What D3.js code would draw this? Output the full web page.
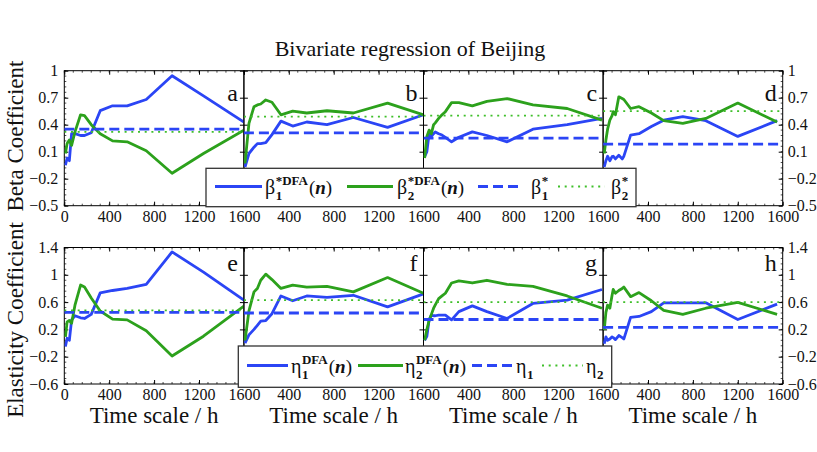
<!DOCTYPE html>
<html>
<head>
<meta charset="utf-8">
<script src="https://cdn.jsdelivr.net/npm/d3@7/dist/d3.min.js"></script>
<style>
html,body{margin:0;padding:0;background:#fff;}
svg text{font-family:"Liberation Serif","Times New Roman",serif;fill:#111;}
</style>
</head>
<body>
<svg id="chart" width="817" height="452"></svg>
<script>
// ---------------- DATA ----------------
const titleText = "Bivariate regression of Beijing";
const panelLetters = ["a","b","c","d","e","f","g","h"];
const xTicks = [0, 400, 800, 1200, 1600];
const yTicksBeta = [-0.5, -0.2, 0.1, 0.4, 0.7, 1];
const yTicksEta = [-0.6, -0.2, 0.2, 0.6, 1, 1.4];

// time scales (h) per column
const timeCol1 = [10, 25, 45, 65, 95, 145, 180, 240, 320, 430, 560, 730, 960, 1240, 1600];
const timeCol2 = [10, 45, 90, 120, 150, 195, 250, 330, 435, 560, 740, 975, 1280, 1600];
const timeCol3 = [10, 30, 50, 70, 90, 105, 135, 165, 195, 250, 315, 435, 565, 745, 975, 1280, 1590];
const timeCol4 = [10, 25, 40, 60, 80, 90, 110, 140, 170, 185, 245, 320, 430, 540, 710, 915, 1200, 1550];

// beta*DFA(n)
const beta1A = [-0.05, 0.03, 0.0, 0.30, 0.30, 0.28, 0.28, 0.31, 0.556, 0.61, 0.61, 0.68, 0.944, 0.72, 0.43];
const beta2A = [0.08, 0.19, 0.23, 0.17, 0.32, 0.51, 0.50, 0.40, 0.30, 0.22, 0.21, 0.11, -0.14, 0.08, 0.34];
const beta1B = [-0.07, 0.08, 0.15, 0.19, 0.19, 0.20, 0.29, 0.44, 0.385, 0.43, 0.40, 0.48, 0.37, 0.51];
const beta2B = [-0.03, 0.415, 0.60, 0.62, 0.63, 0.675, 0.65, 0.51, 0.55, 0.53, 0.555, 0.53, 0.64, 0.51];
const beta1C = [0.045, 0.10, 0.30, 0.27, 0.30, 0.32, 0.30, 0.285, 0.26, 0.21, 0.26, 0.32, 0.28, 0.21, 0.35, 0.40, 0.47];
const beta2C = [0.03, 0.27, 0.34, 0.30, 0.40, 0.42, 0.47, 0.51, 0.545, 0.645, 0.645, 0.61, 0.66, 0.69, 0.62, 0.58, 0.45];
const beta1D = [-0.07, 0.0, 0.05, 0.0, 0.045, 0.05, 0.02, 0.06, 0.02, 0.05, 0.285, 0.30, 0.38, 0.45, 0.49, 0.445, 0.27, 0.445];
const beta2D = [0.08, 0.23, 0.35, 0.45, 0.50, 0.545, 0.51, 0.71, 0.69, 0.68, 0.58, 0.60, 0.53, 0.445, 0.415, 0.47, 0.64, 0.43];

// etaDFA(n)
const eta1E = [-0.05, 0.07, 0.04, 0.34, 0.40, 0.37, 0.36, 0.42, 0.735, 0.77, 0.80, 0.86, 1.335, 1.04, 0.63];
const eta2E = [0.09, 0.31, 0.33, 0.29, 0.555, 0.85, 0.82, 0.66, 0.47, 0.35, 0.34, 0.18, -0.19, 0.10, 0.54];
const eta1F = [0.0, 0.12, 0.20, 0.26, 0.32, 0.33, 0.43, 0.69, 0.62, 0.69, 0.67, 0.70, 0.53, 0.72];
const eta2F = [0.04, 0.47, 0.75, 0.80, 0.92, 1.01, 0.93, 0.80, 0.85, 0.82, 0.83, 0.75, 0.96, 0.73];
const eta1G = [0.04, 0.10, 0.34, 0.41, 0.40, 0.40, 0.41, 0.41, 0.41, 0.34, 0.46, 0.545, 0.46, 0.36, 0.58, 0.63, 0.785];
const eta2G = [0.04, 0.20, 0.33, 0.42, 0.51, 0.56, 0.65, 0.69, 0.73, 0.88, 0.91, 0.88, 0.92, 0.86, 0.83, 0.69, 0.51];
const eta1H = [-0.01, 0.09, 0.04, 0.06, 0.09, 0.08, 0.05, 0.11, 0.08, 0.06, 0.375, 0.39, 0.46, 0.59, 0.59, 0.59, 0.345, 0.57];
const eta2H = [0.19, 0.45, 0.555, 0.51, 0.70, 0.785, 0.73, 0.77, 0.80, 0.82, 0.68, 0.74, 0.62, 0.48, 0.42, 0.51, 0.595, 0.42];

// constant coefficients (horizontal reference lines)
const beta1Star = [0.35, 0.31, 0.25, 0.185];
const beta2Star = [0.32, 0.49, 0.50, 0.55];
const eta1Const = [0.45, 0.44, 0.345, 0.23];
const eta2Const = [0.48, 0.63, 0.60, 0.60];

// ---------------- LAYOUT ----------------
const BLUE = "#2b45f5", GREEN = "#2ca11c";
const svg = d3.select("#chart");
const left = 64.3, panelW = 179.6;
const rows = [
  {top: 70.7, bottom: 205.7, domain: [-0.5, 1], ticks: yTicksBeta, minor: 0.06, label: "Beta Coefficient", labelY: 136},
  {top: 247.5, bottom: 384, domain: [-0.6, 1.4], ticks: yTicksEta, minor: 0.08, label: "Elasticity Coefficient", labelY: 320}
];
const times = [timeCol1, timeCol2, timeCol3, timeCol4];
const series = [
  [beta1A, beta2A], [beta1B, beta2B], [beta1C, beta2C], [beta1D, beta2D],
  [eta1E, eta2E], [eta1F, eta2F], [eta1G, eta2G], [eta1H, eta2H]
];
const refs = [
  [beta1Star, beta2Star], [eta1Const, eta2Const]
];
const fmt = v => (v < 0 ? "\u2212" : "") + String(Math.abs(Math.round(v * 10) / 10));

// title
svg.append("text").attr("x", 410).attr("y", 56).attr("text-anchor", "middle")
  .style("font-size", "22px").text(titleText);

const defs = svg.append("defs");

rows.forEach((row, ri) => {
  const y = d3.scaleLinear().domain(row.domain).range([row.bottom, row.top]);
  // y-axis title
  svg.append("text").attr("transform", `translate(23,${row.labelY}) rotate(-90)`)
    .attr("text-anchor", "middle").style("font-size", "23px").text(row.label);

  for (let ci = 0; ci < 4; ci++) {
    const pi = ri * 4 + ci;
    const x0 = left + ci * panelW;
    const x = d3.scaleLinear().domain([0, 1600]).range([x0, x0 + panelW]);
    const g = svg.append("g");
    const clipId = "clip" + pi;
    defs.append("clipPath").attr("id", clipId).append("rect")
      .attr("x", x0).attr("y", row.top).attr("width", panelW).attr("height", row.bottom - row.top);

    // minor ticks
    const minorX = d3.range(0, 1600.1, 80);
    minorX.forEach(t => {
      g.append("line").attr("x1", x(t)).attr("x2", x(t)).attr("y1", row.top).attr("y2", row.top + 2)
        .attr("stroke", "#000").attr("stroke-width", 0.7);
      g.append("line").attr("x1", x(t)).attr("x2", x(t)).attr("y1", row.bottom).attr("y2", row.bottom - 2)
        .attr("stroke", "#000").attr("stroke-width", 0.7);
    });
    if (ci === 0 || ci === 3) {
      const xe = ci === 0 ? x0 : x0 + panelW;
      const dir = ci === 0 ? 1 : -1;
      const minorY = d3.range(row.domain[0], row.domain[1] + 1e-6, row.minor);
      minorY.forEach(v => {
        g.append("line").attr("x1", xe).attr("x2", xe + dir * 2).attr("y1", y(v)).attr("y2", y(v))
          .attr("stroke", "#000").attr("stroke-width", 0.7);
      });
    }

    // x axis (inward ticks)
    const xt = ci === 0 ? xTicks : xTicks.slice(1);
    const axB = g.append("g").attr("transform", `translate(0,${row.bottom})`)
      .call(d3.axisBottom(x).tickValues(xt).tickSize(-4).tickPadding(5).tickFormat(d3.format("d")));
    const axT = g.append("g").attr("transform", `translate(0,${row.top})`)
      .call(d3.axisTop(x).tickValues(xTicks).tickSize(-4).tickFormat(""));
    // y axes inward ticks both sides
    const axL = g.append("g").attr("transform", `translate(${x0},0)`)
      .call(d3.axisLeft(y).tickValues(row.ticks).tickSize(-4).tickPadding(6).tickFormat(ci === 0 ? fmt : ""));
    const axR = g.append("g").attr("transform", `translate(${x0 + panelW},0)`)
      .call(d3.axisRight(y).tickValues(row.ticks).tickSize(-4).tickPadding(5).tickFormat(ci === 3 ? fmt : ""));
    [axB, axT, axL, axR].forEach(a => {
      a.select(".domain").remove();
      a.selectAll(".tick line").attr("stroke", "#000").attr("stroke-width", 1);
      a.selectAll("text").style("font-family", '"Liberation Serif", serif').style("font-size", "16px").attr("fill", "#111");
    });

    // frame
    g.append("rect").attr("x", x0).attr("y", row.top).attr("width", panelW).attr("height", row.bottom - row.top)
      .attr("fill", "none").attr("stroke", "#000").attr("stroke-width", 1);

    // data lines
    const t = times[ci];
    const [s1, s2] = series[pi];
    const line = d3.line().x(d => x(d[0])).y(d => y(d[1]));
    const plot = g.append("g").attr("clip-path", `url(#${clipId})`);
    plot.append("path").datum(d3.zip(t, s1)).attr("d", line)
      .attr("fill", "none").attr("stroke", BLUE).attr("stroke-width", 2.8).attr("stroke-linejoin", "round");
    plot.append("path").datum(d3.zip(t, s2)).attr("d", line)
      .attr("fill", "none").attr("stroke", GREEN).attr("stroke-width", 2.8).attr("stroke-linejoin", "round");
    const r1 = refs[ri][0][ci], r2 = refs[ri][1][ci];
    plot.append("line").attr("x1", x(0)).attr("x2", x(1600)).attr("y1", y(r1)).attr("y2", y(r1))
      .attr("stroke", BLUE).attr("stroke-width", 2.8).attr("stroke-dasharray", "10,5");
    plot.append("line").attr("x1", x(0)).attr("x2", x(1600)).attr("y1", y(r2)).attr("y2", y(r2))
      .attr("stroke", "#3fbf2a").attr("stroke-width", 1.8).attr("stroke-dasharray", "2,4.7");

    // panel letter
    g.append("text").attr("x", x0 + panelW - 6).attr("y", ri === 0 ? row.top + 30 : row.top + 23)
      .attr("text-anchor", "end").style("font-size", "24px").text(panelLetters[pi]);

    // x-axis title (bottom row)
    if (ri === 1) {
      svg.append("text").attr("x", x0 + panelW / 2).attr("y", 423).attr("text-anchor", "middle")
        .style("font-size", "23px").text("Time scale / h");
    }
  }
});

// ---------------- LEGENDS ----------------
function legend(box, lineY, items) {
  const g = svg.append("g");
  g.append("rect").attr("x", box[0]).attr("y", box[1]).attr("width", box[2] - box[0]).attr("height", box[3] - box[1])
    .attr("fill", "#fff").attr("stroke", "#333").attr("stroke-width", 1.3);
  items.forEach(it => {
    const ln = g.append("line").attr("x1", it.x1).attr("x2", it.x2).attr("y1", lineY).attr("y2", lineY)
      .attr("stroke", it.color);
    if (it.style === "solid") ln.attr("stroke-width", 2.8);
    if (it.style === "dash") ln.attr("stroke-width", 2.8).attr("stroke-dasharray", "10,5");
    if (it.style === "dot") ln.attr("stroke-width", 1.8).attr("stroke-dasharray", "2,4.7").attr("stroke", "#3fbf2a");
    const base = lineY + 7;
    const sym = g.append("text").attr("x", it.tx).attr("y", base).style("font-size", "20px").text(it.sym);
    const sx = it.tx + sym.node().getComputedTextLength() + 0.5;
    g.append("text").attr("x", sx).attr("y", base + 6).style("font-size", "13px").style("font-weight", "bold").text(it.sub);
    let endX = sx + 8;
    if (it.sup) {
      const sp = g.append("text").attr("x", sx).attr("y", base - 9).style("font-size", "13px").style("font-weight", "bold").text(it.sup);
      endX = sx + sp.node().getComputedTextLength() + 1;
    }
    if (it.arg) {
      const tx = g.append("text").attr("x", endX).attr("y", base).style("font-size", "19px");
      tx.append("tspan").text("(");
      tx.append("tspan").style("font-weight", "bold").style("font-style", "italic").text("n");
      tx.append("tspan").text(")");
    }
  });
}

legend([206, 168.3, 636, 206.7], 186.5, [
  {x1: 215, x2: 262, color: BLUE, style: "solid", tx: 265, sym: "\u03b2", sub: "1", sup: "*DFA", arg: true},
  {x1: 347, x2: 393, color: GREEN, style: "solid", tx: 397, sym: "\u03b2", sub: "2", sup: "*DFA", arg: true},
  {x1: 478, x2: 522, color: BLUE, style: "dash", tx: 531, sym: "\u03b2", sub: "1", sup: "*", arg: false},
  {x1: 558, x2: 605, color: GREEN, style: "dot", tx: 611, sym: "\u03b2", sub: "2", sup: "*", arg: false}
]);

legend([238.3, 346, 611.7, 387.3], 365.5, [
  {x1: 247, x2: 288, color: BLUE, style: "solid", tx: 291, sym: "\u03b7", sub: "1", sup: "DFA", arg: true},
  {x1: 358, x2: 403, color: GREEN, style: "solid", tx: 405, sym: "\u03b7", sub: "2", sup: "DFA", arg: true},
  {x1: 472, x2: 513, color: BLUE, style: "dash", tx: 516, sym: "\u03b7", sub: "1", sup: "", arg: false},
  {x1: 542, x2: 583, color: GREEN, style: "dot", tx: 586, sym: "\u03b7", sub: "2", sup: "", arg: false}
]);
</script>
</body>
</html>
